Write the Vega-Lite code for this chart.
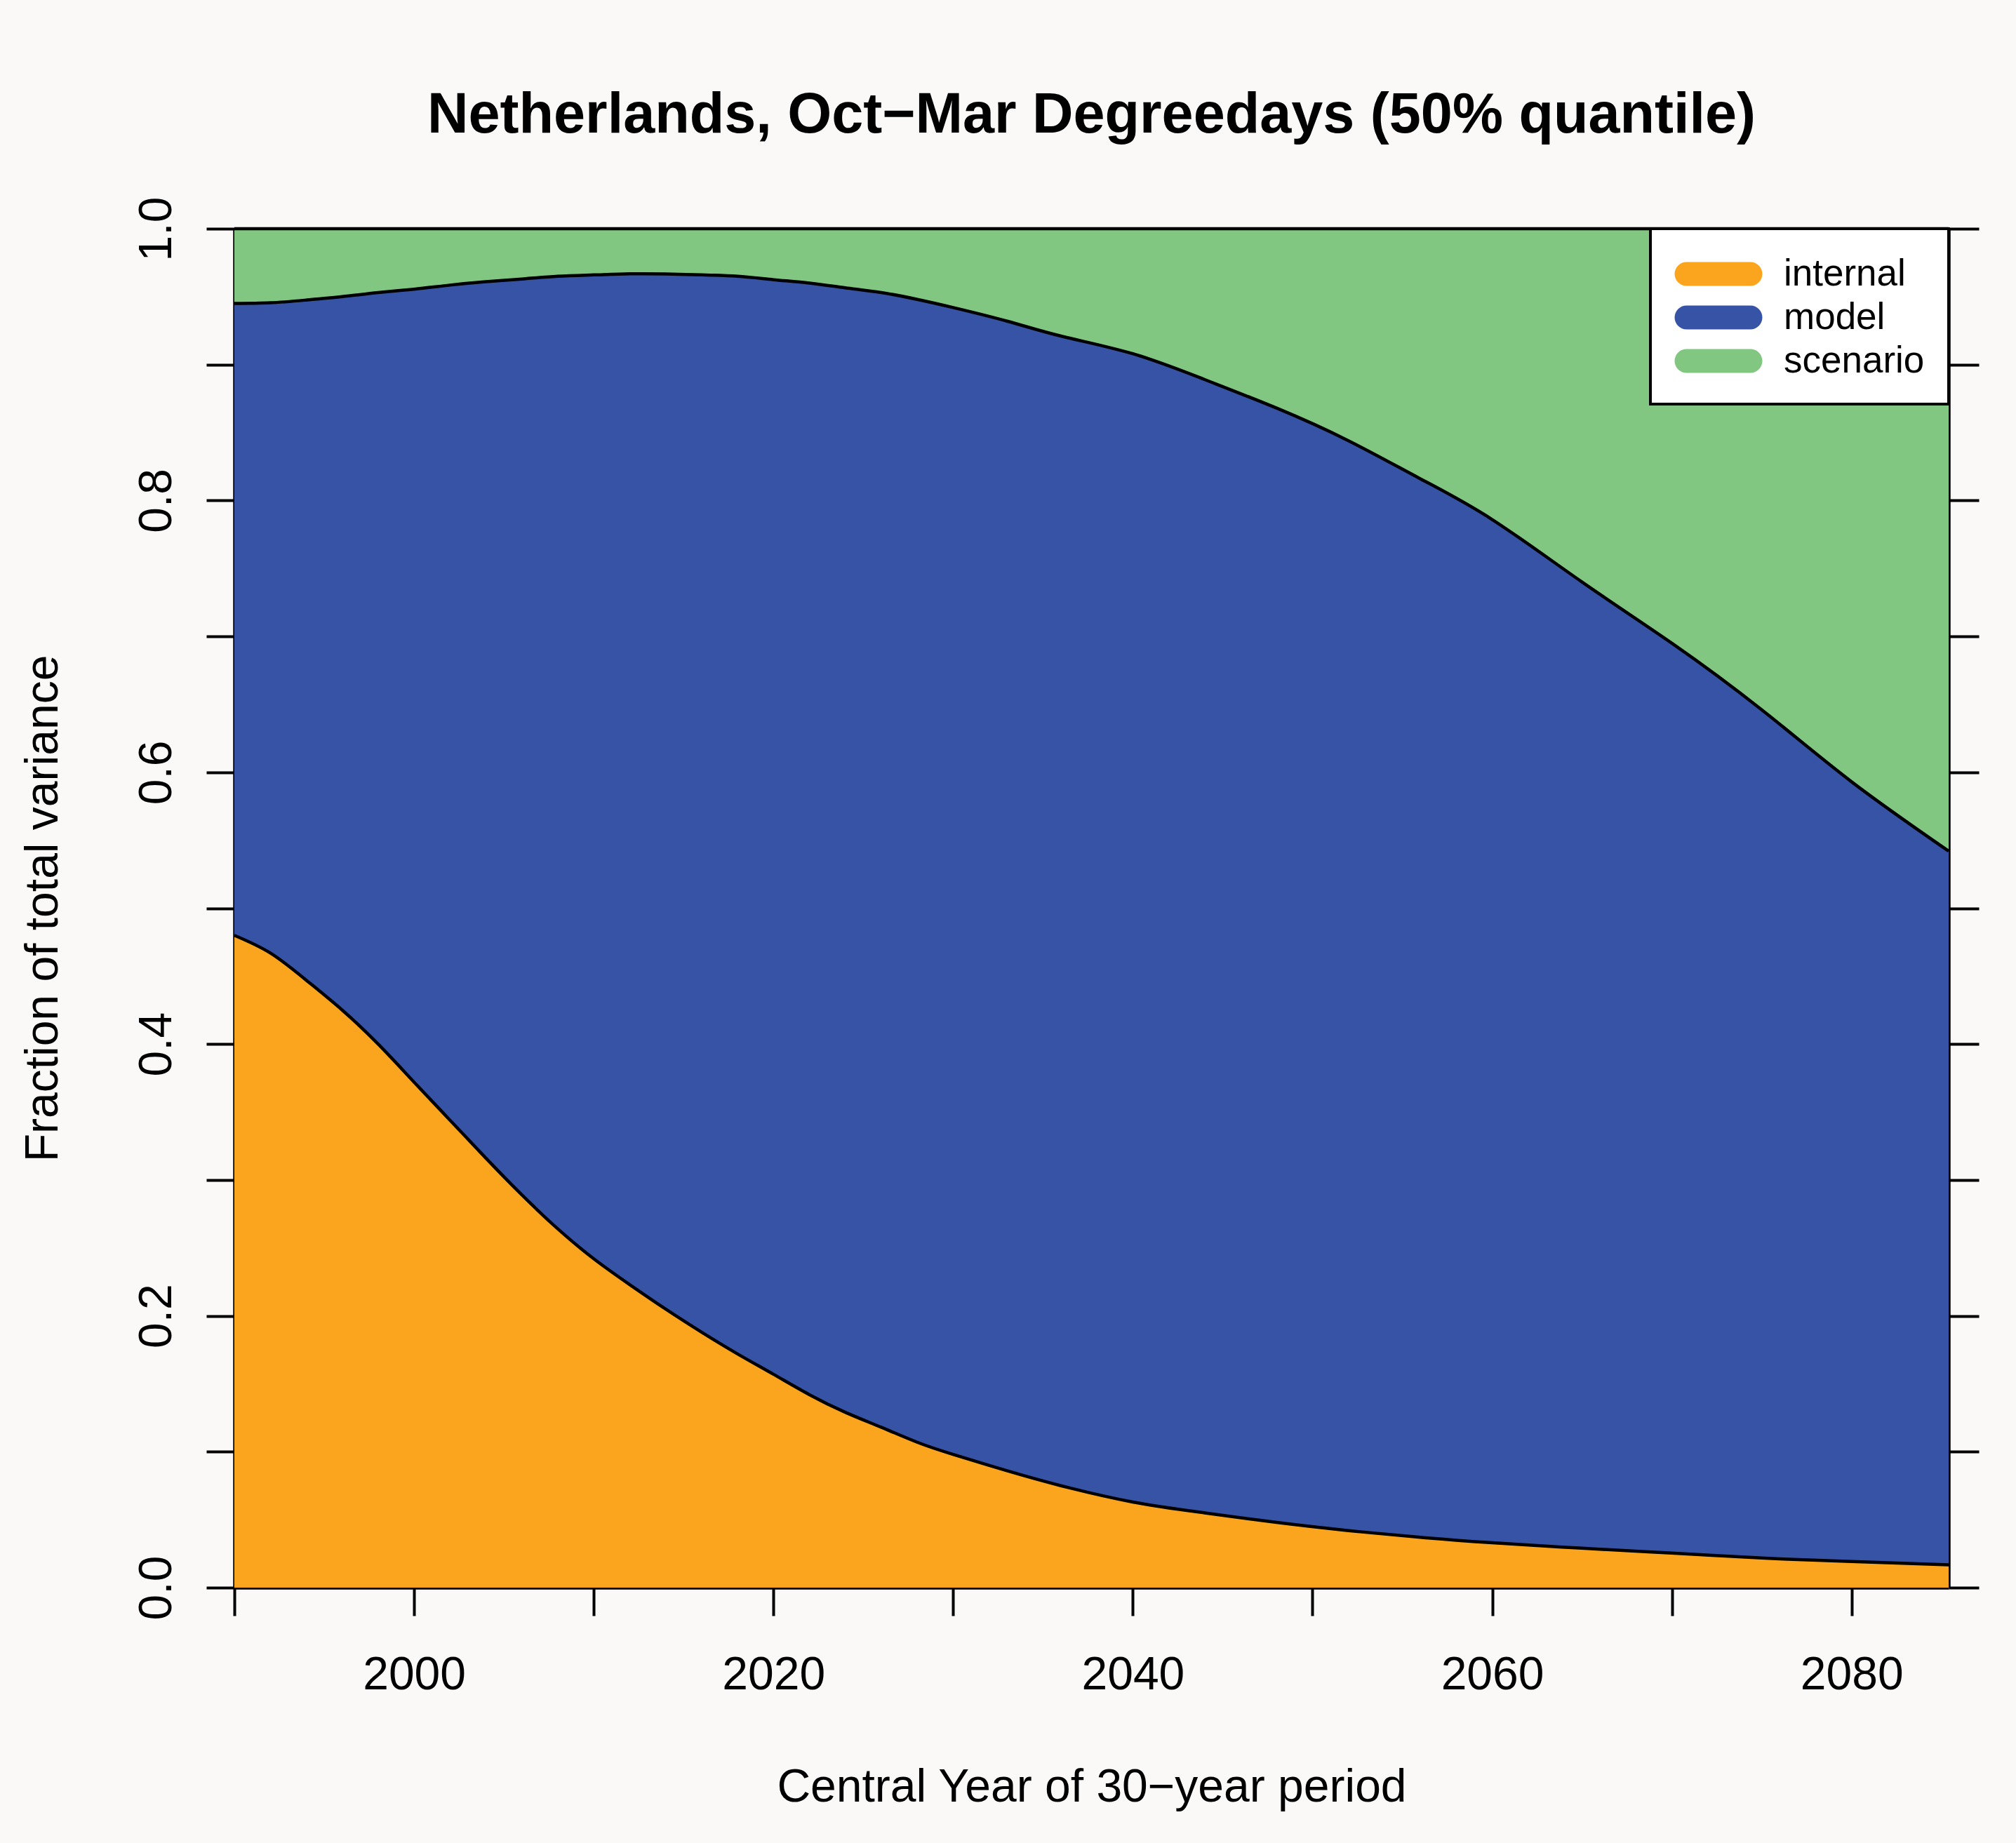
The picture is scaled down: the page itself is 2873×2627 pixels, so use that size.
{
  "$schema": "https://vega.github.io/schema/vega-lite/v6.json",
  "width": 2443,
  "height": 1937,
  "autosize": {"type": "none"},
  "padding": {"left": 334, "top": 326, "right": 96, "bottom": 364},
  "background": "#faf9f7",
  "title": {
    "text": "Netherlands, Oct\u2212Mar Degreedays (50% quantile)",
    "anchor": "middle",
    "frame": "group",
    "font": "Liberation Sans",
    "fontSize": 81,
    "fontWeight": "bold",
    "color": "black",
    "baseline": "alphabetic",
    "offset": 10
  },
  "data": {
    "values": [
      {"year": 1990, "component": "internal", "fraction": 0.480},
      {"year": 1992, "component": "internal", "fraction": 0.467},
      {"year": 1994, "component": "internal", "fraction": 0.447},
      {"year": 1996, "component": "internal", "fraction": 0.425},
      {"year": 1998, "component": "internal", "fraction": 0.400},
      {"year": 2000, "component": "internal", "fraction": 0.372},
      {"year": 2002, "component": "internal", "fraction": 0.344},
      {"year": 2004, "component": "internal", "fraction": 0.316},
      {"year": 2006, "component": "internal", "fraction": 0.289},
      {"year": 2008, "component": "internal", "fraction": 0.264},
      {"year": 2010, "component": "internal", "fraction": 0.242},
      {"year": 2012, "component": "internal", "fraction": 0.223},
      {"year": 2014, "component": "internal", "fraction": 0.205},
      {"year": 2016, "component": "internal", "fraction": 0.188},
      {"year": 2018, "component": "internal", "fraction": 0.172},
      {"year": 2020, "component": "internal", "fraction": 0.157},
      {"year": 2022, "component": "internal", "fraction": 0.142},
      {"year": 2024, "component": "internal", "fraction": 0.129},
      {"year": 2026, "component": "internal", "fraction": 0.118},
      {"year": 2028, "component": "internal", "fraction": 0.107},
      {"year": 2030, "component": "internal", "fraction": 0.098},
      {"year": 2033, "component": "internal", "fraction": 0.086},
      {"year": 2036, "component": "internal", "fraction": 0.075},
      {"year": 2040, "component": "internal", "fraction": 0.063},
      {"year": 2044, "component": "internal", "fraction": 0.055},
      {"year": 2048, "component": "internal", "fraction": 0.048},
      {"year": 2052, "component": "internal", "fraction": 0.042},
      {"year": 2056, "component": "internal", "fraction": 0.037},
      {"year": 2060, "component": "internal", "fraction": 0.033},
      {"year": 2065, "component": "internal", "fraction": 0.029},
      {"year": 2070, "component": "internal", "fraction": 0.0254},
      {"year": 2075, "component": "internal", "fraction": 0.0218},
      {"year": 2080, "component": "internal", "fraction": 0.0192},
      {"year": 2085.4, "component": "internal", "fraction": 0.0168},

      {"year": 1990, "component": "model", "fraction": 0.465},
      {"year": 1992, "component": "model", "fraction": 0.4785},
      {"year": 1994, "component": "model", "fraction": 0.5005},
      {"year": 1996, "component": "model", "fraction": 0.525},
      {"year": 1998, "component": "model", "fraction": 0.553},
      {"year": 2000, "component": "model", "fraction": 0.5835},
      {"year": 2002, "component": "model", "fraction": 0.6145},
      {"year": 2004, "component": "model", "fraction": 0.645},
      {"year": 2006, "component": "model", "fraction": 0.674},
      {"year": 2008, "component": "model", "fraction": 0.701},
      {"year": 2010, "component": "model", "fraction": 0.724},
      {"year": 2012, "component": "model", "fraction": 0.7438},
      {"year": 2014, "component": "model", "fraction": 0.7617},
      {"year": 2016, "component": "model", "fraction": 0.778},
      {"year": 2018, "component": "model", "fraction": 0.793},
      {"year": 2020, "component": "model", "fraction": 0.8055},
      {"year": 2022, "component": "model", "fraction": 0.818},
      {"year": 2024, "component": "model", "fraction": 0.8275},
      {"year": 2026, "component": "model", "fraction": 0.835},
      {"year": 2028, "component": "model", "fraction": 0.841},
      {"year": 2030, "component": "model", "fraction": 0.844},
      {"year": 2033, "component": "model", "fraction": 0.846},
      {"year": 2036, "component": "model", "fraction": 0.846},
      {"year": 2040, "component": "model", "fraction": 0.845},
      {"year": 2044, "component": "model", "fraction": 0.834},
      {"year": 2048, "component": "model", "fraction": 0.820},
      {"year": 2052, "component": "model", "fraction": 0.802},
      {"year": 2056, "component": "model", "fraction": 0.779},
      {"year": 2060, "component": "model", "fraction": 0.753},
      {"year": 2065, "component": "model", "fraction": 0.711},
      {"year": 2070, "component": "model", "fraction": 0.6696},
      {"year": 2075, "component": "model", "fraction": 0.6242},
      {"year": 2080, "component": "model", "fraction": 0.5738},
      {"year": 2085.4, "component": "model", "fraction": 0.5252},

      {"year": 1990, "component": "scenario", "fraction": 0.055},
      {"year": 1992, "component": "scenario", "fraction": 0.0545},
      {"year": 1994, "component": "scenario", "fraction": 0.0525},
      {"year": 1996, "component": "scenario", "fraction": 0.050},
      {"year": 1998, "component": "scenario", "fraction": 0.047},
      {"year": 2000, "component": "scenario", "fraction": 0.0445},
      {"year": 2002, "component": "scenario", "fraction": 0.0415},
      {"year": 2004, "component": "scenario", "fraction": 0.039},
      {"year": 2006, "component": "scenario", "fraction": 0.037},
      {"year": 2008, "component": "scenario", "fraction": 0.035},
      {"year": 2010, "component": "scenario", "fraction": 0.034},
      {"year": 2012, "component": "scenario", "fraction": 0.0332},
      {"year": 2014, "component": "scenario", "fraction": 0.0333},
      {"year": 2016, "component": "scenario", "fraction": 0.034},
      {"year": 2018, "component": "scenario", "fraction": 0.035},
      {"year": 2020, "component": "scenario", "fraction": 0.0375},
      {"year": 2022, "component": "scenario", "fraction": 0.040},
      {"year": 2024, "component": "scenario", "fraction": 0.0435},
      {"year": 2026, "component": "scenario", "fraction": 0.047},
      {"year": 2028, "component": "scenario", "fraction": 0.052},
      {"year": 2030, "component": "scenario", "fraction": 0.058},
      {"year": 2033, "component": "scenario", "fraction": 0.068},
      {"year": 2036, "component": "scenario", "fraction": 0.079},
      {"year": 2040, "component": "scenario", "fraction": 0.092},
      {"year": 2044, "component": "scenario", "fraction": 0.111},
      {"year": 2048, "component": "scenario", "fraction": 0.132},
      {"year": 2052, "component": "scenario", "fraction": 0.156},
      {"year": 2056, "component": "scenario", "fraction": 0.184},
      {"year": 2060, "component": "scenario", "fraction": 0.214},
      {"year": 2065, "component": "scenario", "fraction": 0.260},
      {"year": 2070, "component": "scenario", "fraction": 0.305},
      {"year": 2075, "component": "scenario", "fraction": 0.354},
      {"year": 2080, "component": "scenario", "fraction": 0.407},
      {"year": 2085.4, "component": "scenario", "fraction": 0.458}
    ]
  },
  "transform": [
    {"stack": "fraction", "groupby": ["year"], "sort": [{"field": "component", "order": "ascending"}], "as": ["lo", "hi"]}
  ],
  "layer": [
    {
      "mark": {"type": "area", "interpolate": "natural", "opacity": 1},
      "encoding": {
        "x": {
          "field": "year",
          "type": "quantitative",
          "scale": {"domain": [1990, 2085.4], "nice": false, "zero": false},
          "axis": {
            "orient": "bottom",
            "values": [1990, 2000, 2010, 2020, 2030, 2040, 2050, 2060, 2070, 2080],
            "format": "d",
            "labelExpr": "datum.value % 20 === 0 ? datum.label : ''",
            "labelBaseline": "top",
            "labelPadding": 52,
            "title": "Central Year of 30\u2212year period",
            "titleBaseline": "alphabetic",
            "titleY": 304
          }
        },
        "y": {
          "field": "hi",
          "type": "quantitative",
          "scale": {"domain": [0, 1], "nice": false, "zero": true},
          "axis": {
            "orient": "left",
            "values": [0, 0.1, 0.2, 0.3, 0.4, 0.5, 0.6, 0.7, 0.8, 0.9, 1.0],
            "labelExpr": "round(datum.value * 10) % 2 === 0 ? format(datum.value, '.1f') : ''",
            "labelAngle": -90,
            "labelAlign": "center",
            "labelBaseline": "alphabetic",
            "labelPadding": 51,
            "title": "Fraction of total variance",
            "titleAngle": -90,
            "titleAlign": "center",
            "titleBaseline": "alphabetic",
            "titleX": -253
          }
        },
        "y2": {"field": "lo"},
        "color": {
          "field": "component",
          "type": "nominal",
          "scale": {
            "domain": ["internal", "model", "scenario"],
            "range": ["#fba51f", "#3653a5", "#81c781"]
          },
          "legend": {
            "title": null,
            "orient": "top-right",
            "offset": 0,
            "padding": 34.5,
            "fillColor": "white",
            "strokeColor": "black",
            "symbolType": "M-1.5167,-0.5667 L1.5167,-0.5667 A0.5667,0.5667 0 0 1 1.5167,0.5667 L-1.5167,0.5667 A0.5667,0.5667 0 0 1 -1.5167,-0.5667 Z",
            "symbolSize": 3600,
            "symbolStrokeWidth": 0,
            "symbolOpacity": 1,
            "symbolOffset": 32.5,
            "labelOffset": 63,
            "labelFont": "Liberation Sans",
            "labelFontSize": 53,
            "labelColor": "black",
            "labelLimit": 0,
            "rowPadding": 5
          }
        }
      }
    },
    {
      "mark": {"type": "line", "interpolate": "natural", "color": "black", "strokeWidth": 4.5},
      "encoding": {
        "x": {"field": "year", "type": "quantitative"},
        "y": {
          "field": "hi",
          "type": "quantitative",
          "axis": {
            "orient": "right",
            "values": [0, 0.1, 0.2, 0.3, 0.4, 0.5, 0.6, 0.7, 0.8, 0.9, 1.0],
            "labels": false,
            "tickSize": 43,
            "title": null
          }
        },
        "detail": {"field": "component", "type": "nominal"}
      }
    }
  ],
  "resolve": {"axis": {"y": "independent"}},
  "config": {
    "view": {"stroke": null},
    "legend": {"strokeWidth": 4},
    "axis": {
      "domain": true,
      "domainColor": "black",
      "domainWidth": 4.5,
      "ticks": true,
      "tickColor": "black",
      "tickWidth": 4,
      "tickSize": 40,
      "grid": false,
      "labelColor": "black",
      "labelFont": "Liberation Sans",
      "labelFontSize": 66,
      "labelOverlap": false,
      "labelBound": false,
      "labelFlush": false,
      "titleColor": "black",
      "titleFont": "Liberation Sans",
      "titleFontSize": 66,
      "titleFontWeight": "normal",
      "zindex": 1
    }
  }
}
